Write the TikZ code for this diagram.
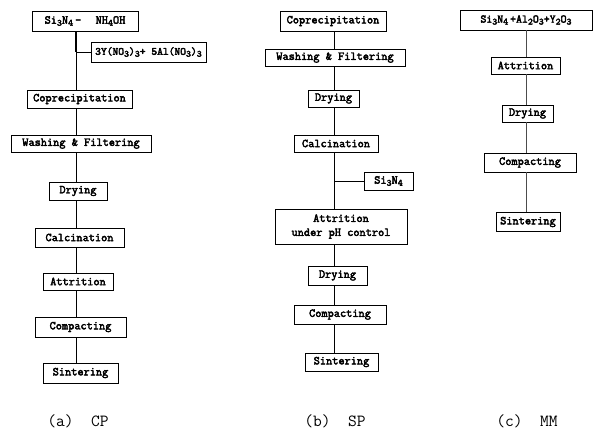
\documentclass[tikz,border=0pt]{standalone}
\usepackage{fontspec}
\newfontfamily\boxfont[FakeBold=3.2]{Latin Modern Mono}
\newcommand{\sbs}[1]{\raisebox{-0.4ex}{\fontsize{9.5}{10}\selectfont #1}}
\tikzset{
  stepbox/.style={draw=black, line width=0.9pt, inner sep=0pt, align=center,
    font=\boxfont\fontsize{12}{14}\selectfont},
  conn/.style={draw=black, line width=0.8pt},
  faint/.style={draw=black!70, line width=0.6pt},
  caplabel/.style={font=\ttfamily\fontsize{17}{19}\selectfont, inner sep=0pt}
}
\begin{document}
\begin{tikzpicture}[x=1pt,y=-1pt]
\useasboundingbox (0,0) rectangle (594,431);
% ---------- (a) CP ----------
\coordinate (sa) at (76,0);
\node[stepbox, minimum width=106pt, minimum height=20pt] (a0) at (85,21) {Si\sbs{3}N\sbs{4}\,–\ \ \,NH\sbs{4}OH};
\node[stepbox, minimum width=115pt, minimum height=20pt, font=\boxfont\fontsize{11}{12}\selectfont] (a0b) at (148.5,52) {3Y(NO\sbs{3})\sbs{3}+\ 5Al(NO\sbs{3})\sbs{3}};
\node[stepbox, minimum width=105pt, minimum height=18pt] (a1) at (79.5,99) {Coprecipitation};
\node[stepbox, minimum width=140pt, minimum height=17pt] (a2) at (81,143.5) {Washing \& Filtering};
\node[stepbox, minimum width=58pt, minimum height=18pt] (a3) at (78,191) {Drying};
\node[stepbox, minimum width=89pt, minimum height=19pt] (a4) at (79.5,237.5) {Calcination};
\node[stepbox, minimum width=70pt, minimum height=17pt] (a5) at (78,281.5) {Attrition};
\node[stepbox, minimum width=91pt, minimum height=20pt] (a6) at (80.5,327) {Compacting};
\node[stepbox, minimum width=75pt, minimum height=20pt] (a7) at (80.5,373) {Sintering};
\node[caplabel] (la) at (78,421) {(a)\ \ CP};
\coordinate (ja) at (76,52);
\draw[line width=1.6pt] (a0.south -| sa) -- (ja);
\draw[conn] (ja) -- (a0b.west);
\draw[conn] (ja) -- (a1.north -| sa);
\draw[conn] (a1.south -| sa) -- (a2.north -| sa);
\draw[conn] (a2.south -| sa) -- (a3.north -| sa);
\draw[conn] (a3.south -| sa) -- (a4.north -| sa);
\draw[conn] (a4.south -| sa) -- (a5.north -| sa);
\draw[conn] (a5.south -| sa) -- (a6.north -| sa);
\draw[conn] (a6.south -| sa) -- (a7.north -| sa);
% ---------- (b) SP ----------
\coordinate (sb) at (334,0);
\node[stepbox, minimum width=106pt, minimum height=20pt] (b1) at (333,21) {Coprecipitation};
\node[stepbox, minimum width=140pt, minimum height=17pt] (b2) at (335,57.5) {Washing \& Filtering};
\node[stepbox, minimum width=51pt, minimum height=17pt] (b3) at (333.5,98.5) {Drying};
\node[stepbox, minimum width=84pt, minimum height=17pt] (b4) at (336,143.5) {Calcination};
\node[stepbox, minimum width=49pt, minimum height=18pt] (b4b) at (388.5,181) {Si\sbs{3}N\sbs{4}};
\node[stepbox, minimum width=132pt, minimum height=35pt] (b5) at (341,226.5) {Attrition\\under pH control};
\node[stepbox, minimum width=59pt, minimum height=19pt] (b6) at (337.5,275.5) {Drying};
\node[stepbox, minimum width=92pt, minimum height=19pt] (b7) at (340,314.5) {Compacting};
\node[stepbox, minimum width=73pt, minimum height=18pt] (b8) at (341.5,362) {Sintering};
\node[caplabel] (lb) at (335,421) {(b)\ \ SP};
\coordinate (jb) at (334,181);
\draw[conn] (b1.south -| sb) -- (b2.north -| sb);
\draw[conn] (b2.south -| sb) -- (b3.north -| sb);
\draw[conn] (b3.south -| sb) -- (b4.north -| sb);
\draw[conn] (b4.south -| sb) -- (jb);
\draw[conn] (jb) -- (b4b.west);
\draw[conn] (jb) -- (b5.north -| sb);
\draw[conn] (b5.south -| sb) -- (b6.north -| sb);
\draw[conn] (b6.south -| sb) -- (b7.north -| sb);
\draw[conn] (b7.south -| sb) -- (b8.north -| sb);
% ---------- (c) MM ----------
\coordinate (sc) at (526,0);
\node[stepbox, minimum width=132pt, minimum height=20pt, font=\boxfont\fontsize{11.5}{12}\selectfont] (c1) at (526,20) {Si\sbs{3}N\sbs{4}\,+Al\sbs{2}O\sbs{3}+Y\sbs{2}O\sbs{3}};
\node[stepbox, minimum width=69pt, minimum height=17pt] (c2) at (525.5,65.5) {Attrition};
\node[stepbox, minimum width=51pt, minimum height=17pt] (c3) at (527.5,113.5) {Drying};
\node[stepbox, minimum width=92pt, minimum height=19pt] (c4) at (530,162.5) {Compacting};
\node[stepbox, minimum width=64pt, minimum height=19pt] (c5) at (528,222) {Sintering};
\node[caplabel] (lc) at (527,421) {(c)\ \ MM};
\draw[faint] (c1.south -| sc) -- (c2.north -| sc);
\draw[faint] (c2.south -| sc) -- (c3.north -| sc);
\draw[faint] (c3.south -| sc) -- (c4.north -| sc);
\draw[faint] (c4.south -| sc) -- (c5.north -| sc);
\end{tikzpicture}
\end{document}
